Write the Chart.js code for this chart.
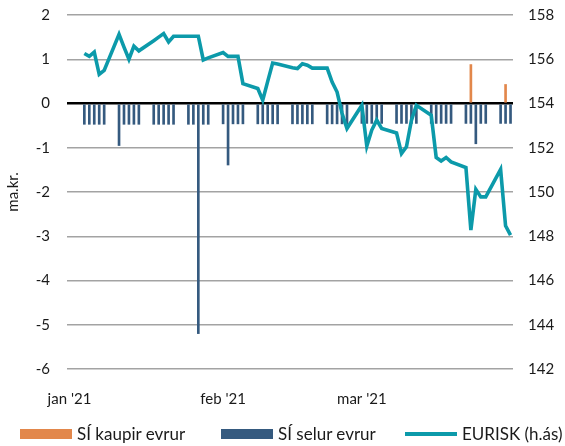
<!DOCTYPE html>
<html>
<head>
<meta charset="utf-8">
<script src="https://cdn.jsdelivr.net/npm/chart.js@4"></script>
<style>
  body { margin: 0; background: #fff; }
  #wrap { width: 565px; height: 446px; position: relative; }
  .lg-item { position: absolute; top: 425px; height: 18px; display: flex; align-items: center;
             font: 17px Lato, "Open Sans", sans-serif; color: #1a1a1a; line-height: 18px; white-space: nowrap; }
  .lg-swatch { width: 52px; margin-right: 5px; }
</style>
</head>
<body>
<div id="wrap"><canvas id="eurChart" width="565" height="446"></canvas><div id="legend"></div></div>
<script>
// trading days, Jan - Mar 2021
const tradeDates = [
    '2021-01-04', '2021-01-05', '2021-01-06', '2021-01-07', '2021-01-08',
    '2021-01-11', '2021-01-12', '2021-01-13', '2021-01-14', '2021-01-15',
    '2021-01-18', '2021-01-19', '2021-01-20', '2021-01-21', '2021-01-22',
    '2021-01-25', '2021-01-26', '2021-01-27', '2021-01-28', '2021-01-29',
    '2021-02-01', '2021-02-02', '2021-02-03', '2021-02-04', '2021-02-05',
    '2021-02-08', '2021-02-09', '2021-02-10', '2021-02-11', '2021-02-12',
    '2021-02-15', '2021-02-16', '2021-02-17', '2021-02-18', '2021-02-19',
    '2021-02-22', '2021-02-23', '2021-02-24', '2021-02-25', '2021-02-26',
    '2021-03-01', '2021-03-02', '2021-03-03', '2021-03-04', '2021-03-05',
    '2021-03-08', '2021-03-09', '2021-03-10', '2021-03-11', '2021-03-12',
    '2021-03-15', '2021-03-16', '2021-03-17', '2021-03-18', '2021-03-19',
    '2021-03-22', '2021-03-23', '2021-03-24', '2021-03-25', '2021-03-26',
    '2021-03-29', '2021-03-30', '2021-03-31'
];

// SÍ selur evrur (ma.kr.)
const sellValues = [
    -0.47, -0.47, -0.47, -0.47, -0.47,
    -0.95, -0.47, -0.47, -0.47, -0.47,
    -0.47, -0.47, -0.47, -0.47, -0.47,
    -0.47, -0.47, -5.20, -0.47, -0.47,
    -0.46, -1.39, -0.46, -0.46, -0.46,
    -0.46, -0.46, -0.46, -0.46, -0.46,
    -0.46, -0.46, -0.46, -0.46, -0.46,
    -0.46, -0.46, -0.46, -0.46, -0.46,
    -0.45, -0.45, -0.45, -0.45, -0.45,
    -0.45, -0.45, -0.45, -0.45, -0.45,
    -0.45, -0.45, -0.45, -0.45, -0.45,
    -0.45, -0.45, -0.91, -0.45, -0.45,
    -0.45, -0.45, -0.45
];

// EURISK (right axis)
const eurisk = [
    156.26, 156.13, 156.32, 155.32, 155.50,
    157.13, 156.55, 156.00, 156.59, 156.38,
    156.84, 157.00, 157.16, 156.78, 157.04,
    157.04, 157.04, 157.04, 155.97, 156.06,
    156.30, 156.13, 156.13, 156.13, 154.90,
    154.68, 154.15, 155.00, 155.83, 155.79,
    155.62, 155.58, 155.80, 155.73, 155.60,
    155.60, 154.97, 154.52, 153.56, 152.87,
    153.92, 152.07, 152.80, 153.25, 152.87,
    152.67, 151.74, 152.04, 153.23, 153.92,
    153.47, 151.56, 151.40, 151.56, 151.36,
    151.11, 148.28, 150.12, 149.78, 149.78,
    151.02, 148.47, 148.05
];

// SÍ kaupir evrur
const buyDates = ['2021-03-23', '2021-03-30'];
const buyValues = [0.88, 0.43];

const monthStarts = ['2021-01-01', '2021-02-01', '2021-03-01'];
const monthLabels = ['jan \'21', 'feb \'21', 'mar \'21'];

const leftTicks = [-6, 2, 1];    // min, max, step
const rightTicks = [142, 158, 2];

function dayIndex(s) {
    const p = s.split('-').map(Number);
    return (Date.UTC(p[0], p[1] - 1, p[2]) - Date.UTC(2021, 0, 1)) / 86400000;
}

const pairs = (dates, vals) => dates.map((d, i) => ({ x: dayIndex(d), y: vals[i] }));
const monthPos = monthStarts.map(dayIndex);

const font = 'Lato, "Open Sans", sans-serif';
const textColor = '#1a1a1a';

// fixed axis widths so the plot area sits where the original's does
function fixWidth(w) {
    return function (scale) {
        scale.width = w;
        scale.paddingTop = 0;
        scale.paddingBottom = 0;
    };
}

// html legend built from the datasets (the canvas legend can't space items like the original)
const legendLeft = [20, 221, 405];
const htmlLegend = {
    id: 'htmlLegend',
    afterUpdate(chart) {
        const box = document.getElementById('legend');
        box.innerHTML = '';
        chart.data.datasets.forEach((ds, i) => {
            const item = document.createElement('div');
            item.className = 'lg-item';
            item.style.left = legendLeft[i] + 'px';
            const sw = document.createElement('span');
            sw.className = 'lg-swatch';
            if (ds.type === 'line') {
                sw.style.height = ds.borderWidth + 'px';
                sw.style.background = ds.borderColor;
            } else {
                sw.style.height = '10px';
                sw.style.background = ds.backgroundColor;
            }
            const txt = document.createElement('span');
            txt.textContent = ds.label;
            item.appendChild(sw);
            item.appendChild(txt);
            box.appendChild(item);
        });
    }
};

new Chart(document.getElementById('eurChart').getContext('2d'), {
    type: 'line',
    data: {
        datasets: [{
            type: 'bar',
            label: 'SÍ kaupir evrur',
            data: pairs(buyDates, buyValues),
            backgroundColor: '#e2874b',
            borderWidth: 0,
            barThickness: 2,
            grouped: false,
            yAxisID: 'y',
            order: 2
        }, {
            type: 'bar',
            label: 'SÍ selur evrur',
            data: pairs(tradeDates, sellValues),
            backgroundColor: '#355a7f',
            borderWidth: 0,
            barThickness: 2,
            grouped: false,
            yAxisID: 'y',
            order: 1
        }, {
            type: 'line',
            label: 'EURISK (h.ás)',
            data: pairs(tradeDates, eurisk),
            borderColor: '#0c9aaa',
            backgroundColor: '#0c9aaa',
            borderWidth: 3.6,
            pointRadius: 0,
            tension: 0,
            yAxisID: 'y2',
            order: 0
        }]
    },
    plugins: [htmlLegend],
    options: {
        responsive: false,
        animation: false,
        layout: { padding: { top: 15, left: 0, right: 0, bottom: 0 } },
        plugins: {
            tooltip: { enabled: false },
            legend: { display: false }
        },
        scales: {
            x: {
                type: 'linear',
                offset: false,
                min: -0.5,
                max: 89.5,
                grid: { display: false },
                border: { display: false },
                afterBuildTicks: function (scale) {
                    scale.ticks = monthPos.map(v => ({ value: v }));
                },
                afterFit: function (scale) { scale.height = 77; },
                ticks: {
                    autoSkip: false,
                    maxRotation: 0,
                    padding: 13,
                    color: textColor,
                    font: { family: font, size: 15 },
                    callback: function (v) {
                        const i = monthPos.indexOf(v);
                        return i >= 0 ? monthLabels[i] : '';
                    }
                }
            },
            y: {
                position: 'left',
                min: leftTicks[0],
                max: leftTicks[1],
                afterFit: fixWidth(67),
                ticks: {
                    stepSize: leftTicks[2],
                    padding: 17,
                    color: textColor,
                    font: { family: font, size: 15 }
                },
                border: { display: false },
                grid: {
                    drawTicks: false,
                    color: ctx => ctx.tick && ctx.tick.value === 0 ? '#000000' : '#a3a3a3',
                    lineWidth: ctx => ctx.tick && ctx.tick.value === 0 ? 2.5 : 1.5
                },
                title: {
                    display: true,
                    text: 'ma.kr.',
                    color: textColor,
                    font: { family: font, size: 15 },
                    padding: { top: 4, bottom: 0 }
                }
            },
            y2: {
                position: 'right',
                min: rightTicks[0],
                max: rightTicks[1],
                afterFit: fixWidth(52),
                ticks: {
                    stepSize: rightTicks[2],
                    padding: 15,
                    color: textColor,
                    font: { family: font, size: 15 }
                },
                border: { display: false },
                grid: { drawOnChartArea: false, drawTicks: false }
            }
        }
    }
});
</script>
</body>
</html>
